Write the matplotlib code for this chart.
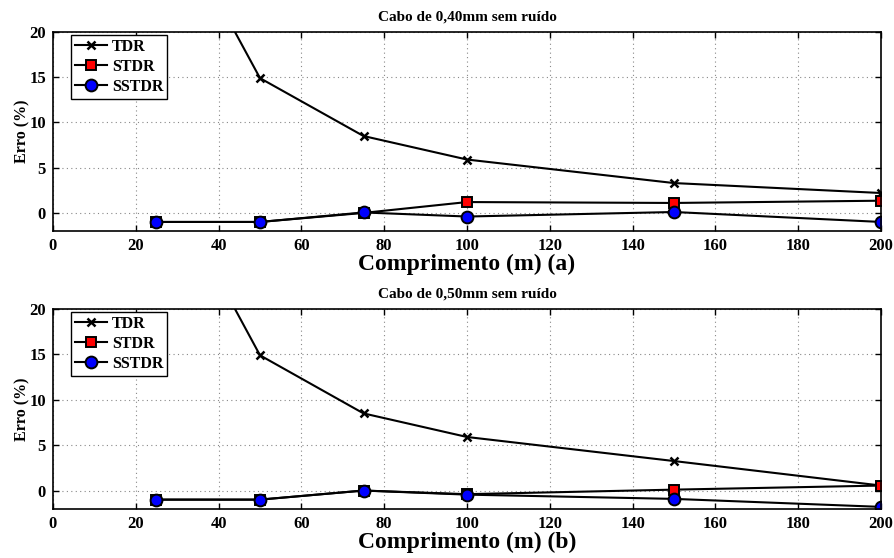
import matplotlib
matplotlib.use("Agg")
import matplotlib.pyplot as plt

plt.rcParams['font.family'] = ['Liberation Serif', 'DejaVu Serif']
plt.rcParams['font.weight'] = 'bold'

x = [25, 50, 75, 100, 150, 200]

# Panel (a): 0,40 mm cable
tdr_a = [36, 14.9, 8.5, 5.9, 3.3, 2.2]
stdr_a = [-1.0, -1.0, 0.0, 1.2, 1.1, 1.35]
sstdr_a = [-1.0, -1.0, 0.05, -0.4, 0.1, -1.0]

# Panel (b): 0,50 mm cable
tdr_b = [36, 14.9, 8.5, 5.9, 3.25, 0.55]
stdr_b = [-1.0, -1.0, 0.0, -0.4, 0.1, 0.55]
sstdr_b = [-1.0, -1.0, 0.0, -0.45, -0.92, -1.8]

titles = ["Cabo de 0,40mm sem ruído", "Cabo de 0,50mm sem ruído"]
xlabels = ["Comprimento (m) (a)", "Comprimento (m) (b)"]
xticks = [0, 20, 40, 60, 80, 100, 120, 140, 160, 180, 200]
yticks = [0, 5, 10, 15, 20]

fig = plt.figure(figsize=(8.95, 5.58), dpi=100)
positions = [
    [53/895, 1-231/558, 828/895, 199/558],
    [53/895, 1-508.7/558, 828/895, 199.7/558],
]
data = [(tdr_a, stdr_a, sstdr_a), (tdr_b, stdr_b, sstdr_b)]

for i in range(2):
    ax = fig.add_axes(positions[i])
    t, s, ss = data[i]
    ax.plot(x, t, color='black', lw=1.5, marker='x', ms=6, mew=1.8, label='TDR')
    ax.plot(x, s, color='black', lw=1.5, marker='s', ms=7, mfc='red', mec='black', mew=1.4, label='STDR')
    ax.plot(x, ss, color='black', lw=1.5, marker='o', ms=8.5, mfc='blue', mec='black', mew=1.4, label='SSTDR')
    ax.set_xlim(0, 200)
    ax.set_ylim(-2, 20)
    ax.set_xticks(xticks)
    ax.set_yticks(yticks)
    ax.tick_params(direction='in', top=True, right=True, labelsize=12, length=4, width=1, pad=5)
    for lab in ax.get_xticklabels() + ax.get_yticklabels():
        lab.set_fontweight('bold')
    ax.grid(True, linestyle=(0, (1, 3)), color='#888888', lw=0.8)
    for sp in ax.spines.values():
        sp.set_linewidth(1.2)
    ax.set_title(titles[i], fontsize=11, fontweight='bold', pad=8)
    ax.set_xlabel(xlabels[i], fontsize=17, fontweight='bold', labelpad=0)
    ax.set_ylabel("Erro (%)", fontsize=11.5, fontweight='bold', labelpad=-1)
    leg = ax.legend(loc='upper left', bbox_to_anchor=(18/828, 1-3/199), fontsize=11.5,
                    fancybox=False, framealpha=1, edgecolor='black', borderaxespad=0,
                    handlelength=2.0, handletextpad=0.3, labelspacing=0.25, borderpad=0.25)
    leg.get_frame().set_linewidth(1.0)
    for txt in leg.get_texts():
        txt.set_fontweight('bold')

fig.savefig("out.png", dpi=100)
